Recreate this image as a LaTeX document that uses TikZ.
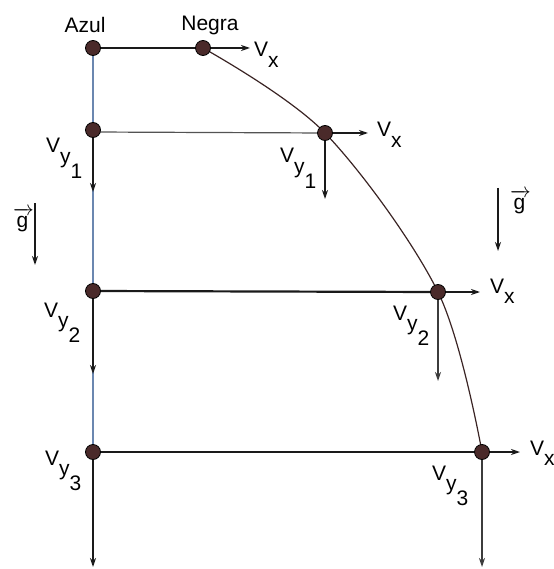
\documentclass[tikz,border=0pt]{standalone}
\usepackage{amsmath}
\usepackage{fontspec}
\setmainfont{Liberation Sans}
\usetikzlibrary{arrows.meta}
\definecolor{cball}{HTML}{4A2A2A}
\definecolor{cblue}{HTML}{6B87B0}
\definecolor{cink}{HTML}{1A1A1A}
\definecolor{cpath}{HTML}{3A2424}
\tikzset{>={Stealth[length=9pt,width=6pt,fill=cball]}}
\newcommand{\Vx}{V\raisebox{-0.48em}{x}}
\newcommand{\Vy}[1]{V\raisebox{-0.48em}{y}\raisebox{-1.2em}{#1}}
\newcommand{\gvec}{\(\overrightarrow{\mbox{g\hspace{2pt}}}\)}

\begin{document}
\begin{tikzpicture}[x=1pt,y=-1pt,font=\fontsize{21}{24}\selectfont,
  ball/.style={circle,draw=black,line width=0.8pt,fill=cball,minimum size=15pt,inner sep=0pt},
  lbl/.style={inner sep=0pt,anchor=base west},
  vel/.style={->,cink,line width=2pt},
  hline/.style={cink,line width=2.2pt}]
\useasboundingbox (0,0) rectangle (553,569);

% ===== balls (positions only) =====
\path (93,48) coordinate (azul0) (93,130) coordinate (azul1)
      (93,291) coordinate (azul2) (93,452) coordinate (azul3);
\path (203,48) coordinate (negra0) (325,133) coordinate (negra1)
      (438,292) coordinate (negra2) (482,452) coordinate (negra3);

% ===== vertical drop (blue) =====
\coordinate (azulend) at (93,520);
\draw[cblue,line width=2pt] (azul0) -- (azulend);
\coordinate (ay1) at (93,192);
\coordinate (ay2) at (93,374);
\coordinate (ay3) at (93,567);
\draw[vel,line width=2.5pt] (azul1) -- (ay1);
\draw[vel,line width=2.5pt] (azul2) -- (ay2);
\draw[vel,line width=2.5pt] (azul3) -- (ay3);

% ===== horizontal links =====
\draw[hline] (azul0) -- (negra0);
\draw[cink!75,line width=1.2pt] (93,132) -- (negra1);
\draw[hline] (azul2) -- (negra2);
\draw[hline] (azul3) -- (negra3);

% ===== trajectory =====
\draw[cpath,line width=1.2pt] plot[smooth,tension=0.55] coordinates {(negra0) (negra1) (negra2) (negra3)};

% ===== velocity components of the thrown ball =====
\coordinate (vx0) at (250,48);
\coordinate (vx1) at (368,133);
\coordinate (vx2) at (480,292);
\coordinate (vx3) at (520,452);
\draw[vel] (negra0) -- (vx0);
\draw[vel] (negra1) -- (vx1);
\draw[vel] (negra2) -- (vx2);
\draw[vel] (negra3) -- (vx3);
\coordinate (ny1) at (325,199);
\coordinate (ny2) at (438,381);
\coordinate (ny3) at (482,567);
\draw[vel] (negra1) -- (ny1);
\draw[vel,cink!85,line width=1.3pt] (negra2) -- (ny2);
\draw[vel,cink!85,line width=1.3pt] (negra3) -- (ny3);

% ===== balls on top =====
\foreach \b in {azul0,azul1,azul2,azul3,negra0,negra1,negra2,negra3}
  \node[ball] (\b b) at (\b) {};

% ===== gravity =====
\coordinate (gl0) at (35,203);
\coordinate (gl1) at (35,265);
\draw[vel,line width=1.6pt] (gl0) -- (gl1);
\coordinate (gr0) at (498,188);
\coordinate (gr1) at (498,251);
\draw[vel,line width=1.6pt] (gr0) -- (gr1);
\node[lbl] (gleft) at (13,227) {\gvec};
\node[lbl] (gright) at (510,209) {\gvec};

% ===== labels =====
\node (azul) at (85,25) {Azul};
\node (negra) at (210,25) {Negra};
\node[lbl] (vxl0) at (254,57) {\Vx};
\node[lbl] (vxl1) at (377,137) {\Vx};
\node[lbl] (vxl2) at (490,293) {\Vx};
\node[lbl] (vxl3) at (530,455) {\Vx};
\node[lbl] (ayl1) at (46,153) {\Vy{1}};
\node[lbl] (ayl2) at (44,317) {\Vy{2}};
\node[lbl] (ayl3) at (45,465) {\Vy{3}};
\node[lbl] (nyl1) at (280,163) {\Vy{1}};
\node[lbl] (nyl2) at (393,320) {\Vy{2}};
\node[lbl] (nyl3) at (432,480) {\Vy{3}};
\end{tikzpicture}
\end{document}
